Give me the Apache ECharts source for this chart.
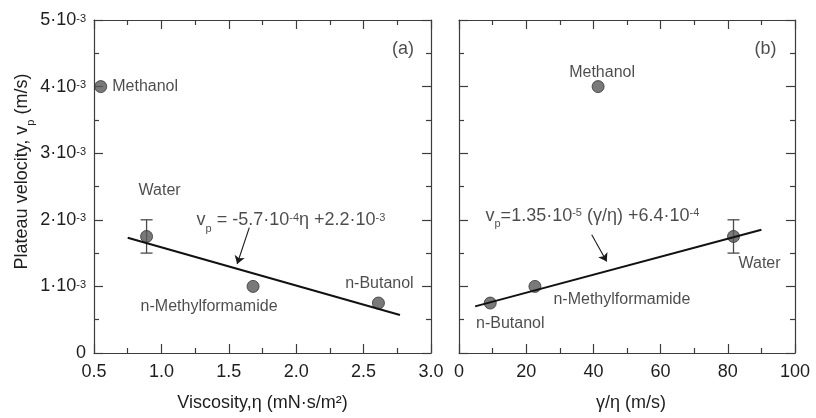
<!DOCTYPE html>
<html>
<head>
<meta charset="utf-8">
<script src="https://cdn.jsdelivr.net/npm/echarts@6/dist/echarts.min.js"></script>
<style>html,body{margin:0;padding:0;background:#fff}#c{width:816px;height:418px}</style>
</head>
<body>
<div id="c"></div>
<script>
// ---------------- data ----------------
const solvents        = ['Methanol', 'Water', 'n-Methylformamide', 'n-Butanol'];
const viscosity       = [0.55, 0.89, 1.68, 2.61];          // mN·s/m²
const gammaOverEta    = [41.4, 81.7, 22.6, 9.3];           // m/s
const plateauVelocity = [4.0e-3, 1.75e-3, 1.0e-3, 0.75e-3]; // m/s
const waterErrorRange = [1.5e-3, 2.0e-3];
const fitA_x = [0.75, 2.77];
const fitA_y = [1.73e-3, 0.57e-3];
const fitB_x = [4.8, 90];
const fitB_y = [0.70e-3, 1.85e-3];
const xTickLabelsA = ['0.5', '1.0', '1.5', '2.0', '2.5', '3.0'];
const xTickLabelsB = ['0', '20', '40', '60', '80', '100'];
const yTickMantissa = ['0', '1', '2', '3', '4', '5'];
const yTickExponent = '-3';

// ---------------- styling / layout ----------------
const FONT = '"Liberation Sans", Arial, Helvetica, sans-serif';
const TXT = '#1e1e1e';
const AX = '#3c3c3c';
const labelPlacementA = {
  'Methanol': {position: 'right', offset: [0, 0]},
  'Water': {position: 'inside', offset: [13, -46]},
  'n-Methylformamide': {position: 'inside', offset: [-44, 20]},
  'n-Butanol': {position: 'inside', offset: [1, -19]}
};
const labelPlacementB = {
  'Methanol': {position: 'inside', offset: [4, -14]},
  'Water': {position: 'inside', offset: [26, 27]},
  'n-Methylformamide': {position: 'inside', offset: [87, 13]},
  'n-Butanol': {position: 'inside', offset: [20, 21]}
};
// annotation anchors in data units
const arrowA = [[1.652, 1.883e-3], [1.562, 1.337e-3]];
const arrowB = [[39.5, 1.774e-3], [43.96, 1.373e-3]];
const eqAnchorA = [1.961, 1.99e-3];
const eqAnchorB = [39.7, 2.06e-3];
const tagAnchorA = [2.793, 4.557e-3];
const tagAnchorB = [91.2, 4.557e-3];

const richEq = {
  t: {fontSize: 18, fontFamily: FONT, color: TXT, lineHeight: 28},
  sub: {fontSize: 11, fontFamily: FONT, color: TXT, lineHeight: 11, verticalAlign: 'bottom'},
  sup: {fontSize: 11, fontFamily: FONT, color: TXT, verticalAlign: 'top', padding: [6, 0, 0, 0]}
};

function yLabel(v) {
  const i = Math.round(v * 1000);
  if (i === 0) return '{m|0}';
  return '{m|' + yTickMantissa[i] + '·10}{s|' + yTickExponent + '}';
}

function tickCommon() {
  return {
    axisLine: {show: true, onZero: false, lineStyle: {color: AX, width: 1.2}},
    axisTick: {show: true, inside: true, length: 9, lineStyle: {color: AX, width: 1.2}},
    minorTick: {show: true, splitNumber: 2, length: 5, lineStyle: {color: AX, width: 1.2}},
    splitLine: {show: false},
    minorSplitLine: {show: false}
  };
}

function xAxis(grid, pos, min, max, interval, labels, name, namePad) {
  const a = Object.assign({type: 'value', gridIndex: grid, position: pos, min: min, max: max, interval: interval}, tickCommon());
  if (labels) {
    a.axisLabel = {show: true, margin: 10, color: TXT, fontSize: 18, fontFamily: FONT,
      formatter: function (v) { return labels[Math.round((v - min) / interval)]; }};
    a.name = name;
    a.nameLocation = 'middle';
    a.nameGap = 40;
    a.nameTextStyle = {fontSize: 18, fontFamily: FONT, color: TXT, lineHeight: 20, padding: namePad};
  } else {
    a.axisLabel = {show: false};
  }
  return a;
}

function yAxis(grid, pos, withLabels) {
  const a = Object.assign({type: 'value', gridIndex: grid, position: pos, min: 0, max: 5e-3, interval: 1e-3}, tickCommon());
  if (withLabels) {
    a.axisLabel = {show: true, margin: 8, formatter: yLabel, rich: {
      m: {fontSize: 18, fontFamily: FONT, color: TXT, lineHeight: 18},
      s: {fontSize: 11, fontFamily: FONT, color: TXT, verticalAlign: 'top', padding: [2, 0, 0, 0]}
    }};
    a.name = '{t|Plateau velocity, v}{sub|p}{t| (m/s)}';
    a.nameLocation = 'middle';
    a.nameGap = 58;
    a.nameTextStyle = {padding: [0, 0, 0, 30], rich: {
      t: {fontSize: 18, fontFamily: FONT, color: TXT, lineHeight: 28},
      sub: {fontSize: 11, fontFamily: FONT, color: TXT, lineHeight: 11, verticalAlign: 'bottom'}
    }};
  } else {
    a.axisLabel = {show: false};
  }
  return a;
}

function pointsData(xs, placement) {
  return solvents.map(function (n, i) {
    return {name: n, value: [xs[i], plateauVelocity[i]], label: placement[n]};
  });
}

function errorSeries(xi, yi, xs) {
  const wi = solvents.indexOf('Water');
  return {
    type: 'custom', xAxisIndex: xi, yAxisIndex: yi, z: 2, silent: true,
    data: [[xs[wi], waterErrorRange[0], waterErrorRange[1]]],
    renderItem: function (params, api) {
      const lo = api.coord([api.value(0), api.value(1)]);
      const hi = api.coord([api.value(0), api.value(2)]);
      const c = 6;
      const st = {stroke: '#4a4a4a', lineWidth: 1.3};
      return {type: 'group', children: [
        {type: 'line', shape: {x1: lo[0], y1: lo[1], x2: hi[0], y2: hi[1]}, style: st},
        {type: 'line', shape: {x1: lo[0] - c, y1: lo[1], x2: lo[0] + c, y2: lo[1]}, style: st},
        {type: 'line', shape: {x1: hi[0] - c, y1: hi[1], x2: hi[0] + c, y2: hi[1]}, style: st}
      ]};
    }
  };
}

function fitSeries(xi, yi, fx, fy, arrow) {
  return {
    type: 'line', xAxisIndex: xi, yAxisIndex: yi, z: 5, silent: true,
    data: fx.map(function (x, i) { return [x, fy[i]]; }),
    symbol: 'none', lineStyle: {color: '#111', width: 2},
    markLine: {
      silent: true, symbol: ['none', 'arrow'], symbolSize: 8,
      label: {show: false},
      lineStyle: {color: '#1a1a1a', width: 1.1, type: 'solid'},
      data: [[{coord: arrow[0]}, {coord: arrow[1]}]]
    }
  };
}

function scatterSeries(xi, yi, xs, placement) {
  return {
    type: 'scatter', xAxisIndex: xi, yAxisIndex: yi, z: 3, silent: true,
    symbol: 'circle', symbolSize: 12,
    itemStyle: {color: '#585858', borderColor: '#333', borderWidth: 1},
    label: {show: true, formatter: '{b}', fontSize: 16, fontFamily: FONT, color: TXT},
    data: pointsData(xs, placement)
  };
}

function textSeries(xi, yi, items) {
  return {
    type: 'scatter', xAxisIndex: xi, yAxisIndex: yi, z: 6, silent: true,
    symbolSize: 0,
    label: {show: true, position: 'inside', formatter: '{b}', rich: richEq,
      fontSize: 18, fontFamily: FONT, color: TXT},
    data: items
  };
}

const option = {
  animation: false,
  backgroundColor: '#fff',
  grid: [
    {left: 94, top: 20, width: 337, height: 337},
    {left: 459, top: 20, width: 336, height: 337}
  ],
  xAxis: [
    xAxis(0, 'bottom', 0.5, 3.0, 0.5, xTickLabelsA, 'Viscosity,η (mN·s/m²)', [0, 0, 0, 0]),
    xAxis(0, 'top', 0.5, 3.0, 0.5, null),
    xAxis(1, 'bottom', 0, 100, 20, xTickLabelsB, 'γ/η (m/s)', [0, 0, 0, 8]),
    xAxis(1, 'top', 0, 100, 20, null)
  ],
  yAxis: [
    yAxis(0, 'left', true),
    yAxis(0, 'right', false),
    yAxis(1, 'left', false),
    yAxis(1, 'right', false)
  ],
  series: [
    errorSeries(0, 0, viscosity),
    scatterSeries(0, 0, viscosity, labelPlacementA),
    fitSeries(0, 0, fitA_x, fitA_y, arrowA),
    textSeries(0, 0, [
      {name: '{t|v}{sub|p}{t| = -5.7·10}{sup|-4}{t|η +2.2·10}{sup|-3}', value: eqAnchorA},
      {name: '{t|(a)}', value: tagAnchorA}
    ]),
    errorSeries(2, 2, gammaOverEta),
    scatterSeries(2, 2, gammaOverEta, labelPlacementB),
    fitSeries(2, 2, fitB_x, fitB_y, arrowB),
    textSeries(2, 2, [
      {name: '{t|v}{sub|p}{t|=1.35·10}{sup|-5}{t| (γ/η) +6.4·10}{sup|-4}', value: eqAnchorB},
      {name: '{t|(b)}', value: tagAnchorB}
    ])
  ]
};

const chart = echarts.init(document.getElementById('c'), null, {renderer: 'canvas'});
chart.setOption(option);
</script>
</body>
</html>
